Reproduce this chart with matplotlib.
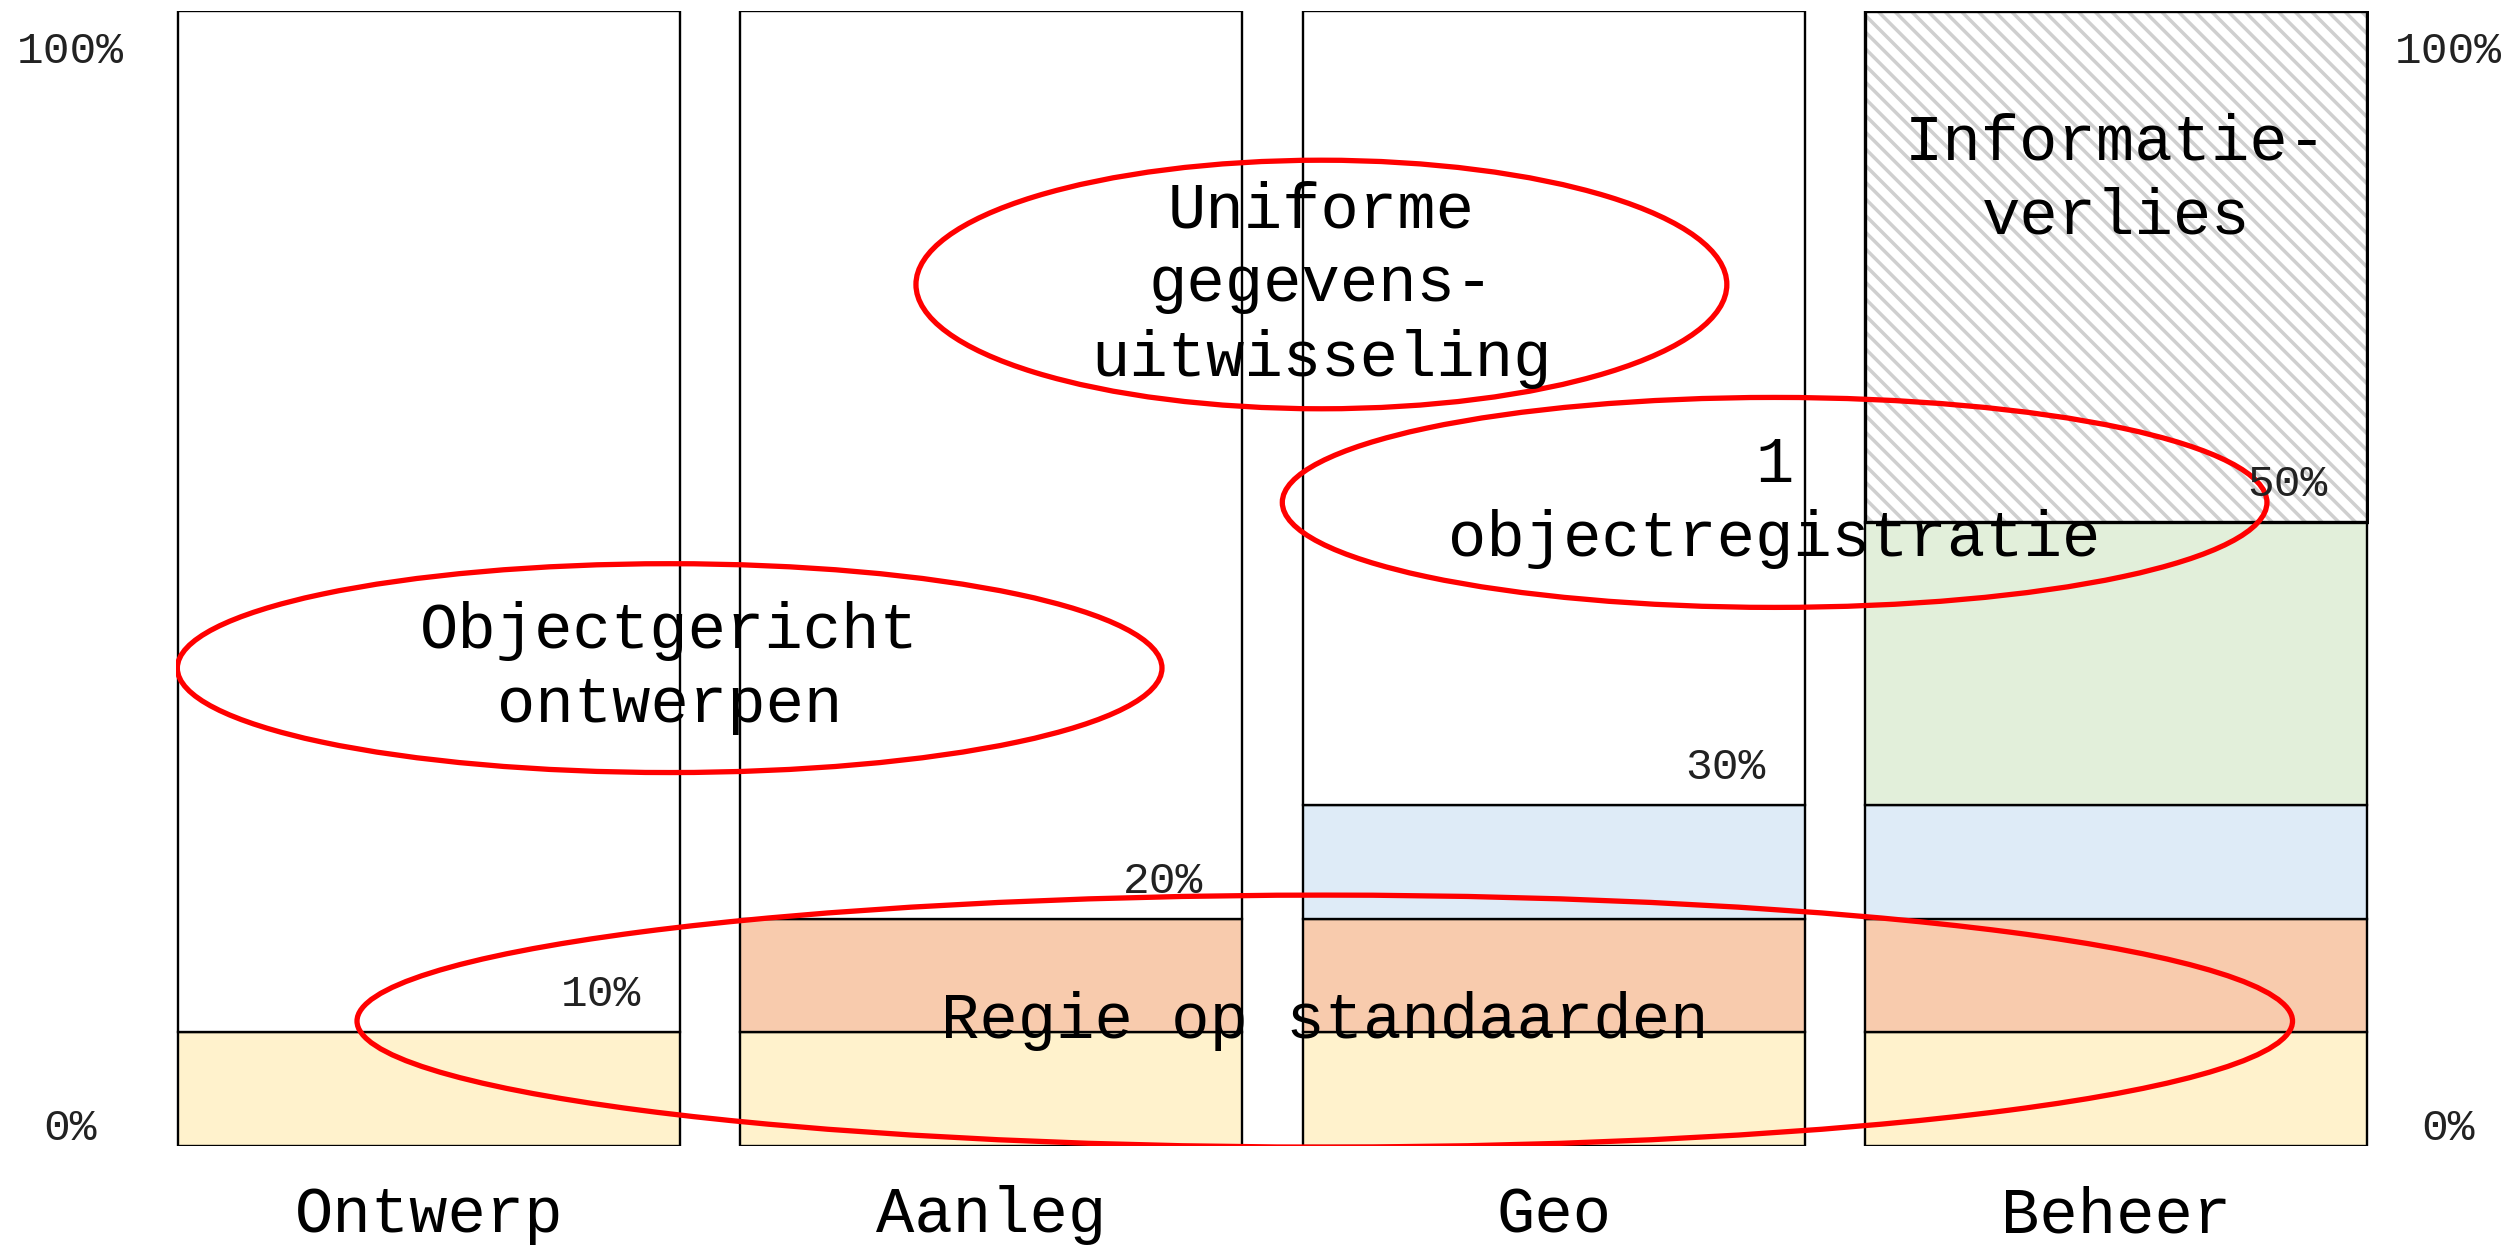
import numpy as np
import matplotlib.pyplot as plt
from matplotlib.patches import Ellipse

plt.rcParams['font.family'] = ['Liberation Mono', 'DejaVu Sans']
plt.rcParams['hatch.linewidth'] = 2.5

# data
categories = ['Ontwerp', 'Aanleg', 'Geo', 'Beheer']
geel = [10, 10, 10, 10]
oranje = [0, 10, 10, 10]
blauw = [0, 0, 10, 10]
groen = [0, 0, 0, 25]
verlies = [0, 0, 0, 45]
pct_labels = ['10%', '20%', '30%', '50%']

# annotation ellipses: (label, x centre, y centre, width, height)
ellipses = [
	('Uniforme\ngegevens-\nuitwisseling', 1.587, 75.9, 1.442, 21.9),
	('1\nobjectregistratie', 2.393, 56.7, 1.751, 18.5),
	('Objectgericht\nontwerpen', 0.428, 42.1, 1.751, 18.4),
	('Regie op standaarden', 1.593, 11.0, 3.442, 22.2),
]

x = np.arange(len(categories))
w = 0.893
fig = plt.figure(figsize=(25.17, 12.46), dpi=100)
ax = fig.add_axes([0.0699, 0.0803, 0.8713, 0.9109])

segs = [(geel, '#FFF2CC'), (oranje, '#F8CBAD'), (blauw, '#DEEBF7'), (groen, '#E2EFDA')]
bottom = np.zeros(len(categories))
for vals, col in segs:
	vals = np.array(vals, dtype=float)
	for i in range(len(x)):
		if vals[i] > 0:
			ax.bar(x[i], vals[i], w, bottom=bottom[i], color=col, edgecolor='black', linewidth=1.7, zorder=2)
	bottom += vals

verlies = np.array(verlies, dtype=float)
rest = 100 - bottom - verlies
for i in range(len(x)):
	if rest[i] > 0:
		ax.bar(x[i], rest[i], w, bottom=bottom[i], color='white', edgecolor='black', linewidth=1.7, zorder=2)
	if verlies[i] > 0:
		ax.bar(x[i], verlies[i], w, bottom=bottom[i], color='white', edgecolor='#CFCFCF', hatch='\\\\', linewidth=0, zorder=2)
		ax.bar(x[i], verlies[i], w, bottom=bottom[i], fill=False, edgecolor='black', linewidth=2.4, zorder=3)
		ax.text(x[i], bottom[i] + verlies[i] * 0.67, 'Informatie-\nverlies', ha='center', va='center',
			fontsize=46, linespacing=1.3, zorder=5)

# percentage labels just above the coloured part
tops = bottom
for i, lab in enumerate(pct_labels):
	ax.text(x[i] + w / 2 - 0.07, tops[i] + 3.3, lab, ha='right', va='center', fontsize=32, color='#222222', zorder=5)

for lab, cx, cy, ew, eh in ellipses:
	ax.add_patch(Ellipse((cx, cy), ew, eh, fill=False, edgecolor='#FF0000', linewidth=3.8, zorder=4))
	ax.text(cx, cy, lab, ha='center', va='center', fontsize=46, linespacing=1.3, zorder=5)

for i, c in enumerate(categories):
	ax.text(x[i], -6.1, c, ha='center', va='center', fontsize=46, clip_on=False)

fig.text(0.028, 0.959, '100%', ha='center', va='center', fontsize=32, color='#222222')
fig.text(0.028, 0.0943, '0%', ha='center', va='center', fontsize=32, color='#222222')
fig.text(0.9726, 0.959, '100%', ha='center', va='center', fontsize=32, color='#222222')
fig.text(0.9726, 0.0943, '0%', ha='center', va='center', fontsize=32, color='#222222')

ax.set_xlim(-0.45, 3.45)
ax.set_ylim(0, 100)
ax.axis('off')

fig.savefig('out.png', dpi=100)
